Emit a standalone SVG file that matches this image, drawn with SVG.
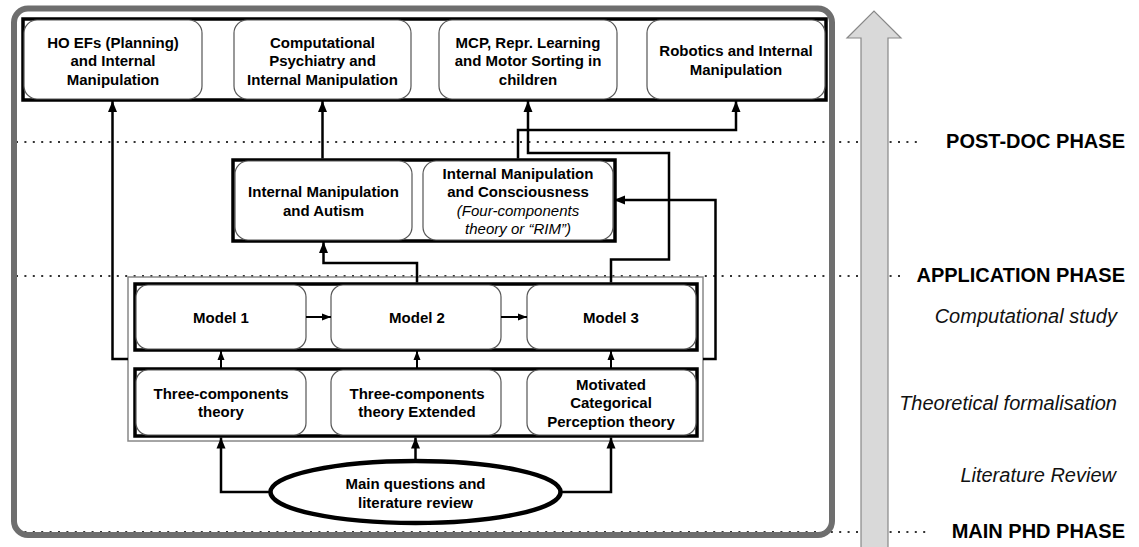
<svg xmlns="http://www.w3.org/2000/svg" width="1139" height="547" viewBox="0 0 1139 547">
  <style>
    .frame { fill: none; stroke: #6e6e6e; stroke-width: 6; }
    .band { fill: #fff; stroke: #000; stroke-width: 3.5; }
    .node { fill: #fff; stroke: #555; stroke-width: 1.2; }
    .group-frame { fill: none; stroke: #888; stroke-width: 1.5; }
    .wire { fill: none; stroke: #000; stroke-width: 2.5; }
    .wire-thin { fill: none; stroke: #000; stroke-width: 2; }
    .dots { stroke: #333; stroke-width: 2.2; stroke-dasharray: 2 6.4; }
    .t { font-family: "Liberation Sans", Arial, sans-serif; font-size: 15px; font-weight: bold; fill: #000; text-anchor: middle; }
    .ti { font-family: "Liberation Sans", Arial, sans-serif; font-size: 15px; font-style: italic; fill: #000; text-anchor: middle; }
    .phase { font-family: "Liberation Sans", Arial, sans-serif; font-size: 20px; font-weight: bold; fill: #000; text-anchor: end; }
    .stage { font-family: "Liberation Sans", Arial, sans-serif; font-size: 20px; font-style: italic; fill: #111; text-anchor: end; }
  </style>
  <defs>
    <marker id="arrow" markerUnits="userSpaceOnUse" markerWidth="12" markerHeight="12" viewBox="0 0 12 12" refX="11" refY="6" orient="auto">
      <path d="M0,1.5 L11,6 L0,10.5 Z" fill="#000"/>
    </marker>
    <marker id="arrow-sm" markerUnits="userSpaceOnUse" markerWidth="10" markerHeight="10" viewBox="0 0 10 10" refX="9" refY="5" orient="auto">
      <path d="M0,1.5 L9,5 L0,8.5 Z" fill="#000"/>
    </marker>
  </defs>

  <rect width="1139" height="547" fill="#fff"/>

  <!-- phase separators -->
  <g id="separators">
    <line class="dots" x1="16" y1="142" x2="922" y2="142"/>
    <line class="dots" x1="16" y1="276" x2="902" y2="276"/>
    <line class="dots" x1="16" y1="532" x2="928" y2="532"/>
  </g>

  <!-- timeline arrow -->
  <g id="timeline">
    <polygon points="861,548 861,38 847,38 874,11 901,38 888,38 888,548" fill="#d9d9d9" stroke="#888" stroke-width="1.2"/>
  </g>

  <!-- outer PhD frame -->
  <rect id="phd-frame" class="frame" x="14" y="8.5" width="818" height="526.5" rx="14"/>

  <!-- phase and stage labels -->
  <g id="labels">
    <text class="phase" x="1125" y="148">POST-DOC PHASE</text>
    <text class="phase" x="1125" y="282">APPLICATION PHASE</text>
    <text class="phase" x="1125" y="538">MAIN PHD PHASE</text>
    <text class="stage" x="1117" y="323">Computational study</text>
    <text class="stage" x="1117" y="410">Theoretical formalisation</text>
    <text class="stage" x="1116" y="482">Literature Review</text>
  </g>

  <!-- post-doc projects -->
  <g id="postdoc">
    <rect class="band" x="23" y="19" width="803" height="81"/>
    <g id="node-hoefs">
      <rect class="node" x="24" y="20" width="178" height="79" rx="13"/>
      <text class="t" x="113" y="47.5">HO EFs (Planning)</text>
      <text class="t" x="113" y="66">and Internal</text>
      <text class="t" x="113" y="84.5">Manipulation</text>
    </g>
    <g id="node-comppsych">
      <rect class="node" x="234" y="20" width="177" height="79" rx="13"/>
      <text class="t" x="322.5" y="47.5">Computational</text>
      <text class="t" x="322.5" y="66">Psychiatry and</text>
      <text class="t" x="322.5" y="84.5">Internal Manipulation</text>
    </g>
    <g id="node-mcp">
      <rect class="node" x="439" y="20" width="178" height="79" rx="13"/>
      <text class="t" x="528" y="47.5">MCP, Repr. Learning</text>
      <text class="t" x="528" y="66">and Motor Sorting in</text>
      <text class="t" x="528" y="84.5">children</text>
    </g>
    <g id="node-robotics">
      <rect class="node" x="647" y="20" width="178" height="79" rx="13"/>
      <text class="t" x="736" y="56">Robotics and Internal</text>
      <text class="t" x="736" y="74.5">Manipulation</text>
    </g>
  </g>

  <!-- application projects -->
  <g id="application">
    <rect class="band" x="233" y="160" width="382" height="81"/>
    <g id="node-autism">
      <rect class="node" x="235" y="161" width="177" height="79" rx="13"/>
      <text class="t" x="323.5" y="197">Internal Manipulation</text>
      <text class="t" x="323.5" y="215.5">and Autism</text>
    </g>
    <g id="node-consciousness">
      <rect class="node" x="423" y="161" width="190" height="79" rx="13"/>
      <text class="t" x="518" y="179">Internal Manipulation</text>
      <text class="t" x="518" y="197">and Consciousness</text>
      <text class="ti" x="518" y="215.5">(Four-components</text>
      <text class="ti" x="518" y="234">theory or “RIM”)</text>
    </g>
  </g>

  <!-- main PhD work -->
  <g id="phd">
    <rect class="group-frame" x="128" y="277" width="575" height="164"/>
    <rect class="band" x="135" y="284" width="562" height="66"/>
    <g id="node-model1">
      <rect class="node" x="136" y="285" width="170" height="64" rx="12"/>
      <text class="t" x="221" y="323">Model 1</text>
    </g>
    <g id="node-model2">
      <rect class="node" x="331" y="285" width="170" height="64" rx="12"/>
      <text class="t" x="417" y="323">Model 2</text>
    </g>
    <g id="node-model3">
      <rect class="node" x="527" y="285" width="169" height="64" rx="12"/>
      <text class="t" x="611" y="323">Model 3</text>
    </g>

    <rect class="band" x="135" y="369" width="562" height="67"/>
    <g id="node-theory3c">
      <rect class="node" x="136" y="370" width="170" height="65" rx="12"/>
      <text class="t" x="221" y="398.5">Three-components</text>
      <text class="t" x="221" y="417">theory</text>
    </g>
    <g id="node-theory3cx">
      <rect class="node" x="331" y="370" width="170" height="65" rx="12"/>
      <text class="t" x="417" y="398.5">Three-components</text>
      <text class="t" x="417" y="417">theory Extended</text>
    </g>
    <g id="node-mcptheory">
      <rect class="node" x="527" y="370" width="169" height="65" rx="12"/>
      <text class="t" x="611" y="389.5">Motivated</text>
      <text class="t" x="611" y="408">Categorical</text>
      <text class="t" x="611" y="426.5">Perception theory</text>
    </g>

    <g id="node-review">
      <ellipse cx="415.5" cy="492" rx="145" ry="31" fill="#fff" stroke="#000" stroke-width="4.5"/>
      <text class="t" x="415.5" y="489">Main questions and</text>
      <text class="t" x="415.5" y="507.5">literature review</text>
    </g>
  </g>

  <!-- connectors -->
  <g id="connectors">
    <!-- Three-components theory branch to HO EFs -->
    <path class="wire" d="M128,359 H112.5 V101" marker-end="url(#arrow)"/>
    <!-- Autism to Computational Psychiatry -->
    <path class="wire" d="M322.5,158.5 V101" marker-end="url(#arrow)"/>
    <!-- Consciousness to Robotics -->
    <path class="wire" d="M518,158.5 V130 H736 V101" marker-end="url(#arrow)"/>
    <!-- Model 3 to MCP -->
    <path class="wire" d="M611,282.5 V259.5 H669 V153 H528 V101" marker-end="url(#arrow)"/>
    <!-- Model 2 to Autism -->
    <path class="wire" d="M417,282.5 V263 H323.5 V242" marker-end="url(#arrow)"/>
    <!-- MCP theory branch to Consciousness -->
    <path class="wire" d="M703,359 H715.5 V200 H614" marker-end="url(#arrow)"/>
    <!-- model chain -->
    <path class="wire-thin" d="M306,317 H331" marker-end="url(#arrow-sm)"/>
    <path class="wire-thin" d="M501,317 H527" marker-end="url(#arrow-sm)"/>
    <!-- theories to models -->
    <path class="wire-thin" d="M221,368 V351" marker-end="url(#arrow-sm)"/>
    <path class="wire-thin" d="M417,368 V351" marker-end="url(#arrow-sm)"/>
    <path class="wire-thin" d="M611,368 V351" marker-end="url(#arrow-sm)"/>
    <!-- literature review to theories -->
    <path class="wire" d="M270,492 H221 V437.5" marker-end="url(#arrow)"/>
    <path class="wire" d="M415.5,461 V437.5" marker-end="url(#arrow)"/>
    <path class="wire" d="M561,492 H611 V437.5" marker-end="url(#arrow)"/>
  </g>
</svg>
